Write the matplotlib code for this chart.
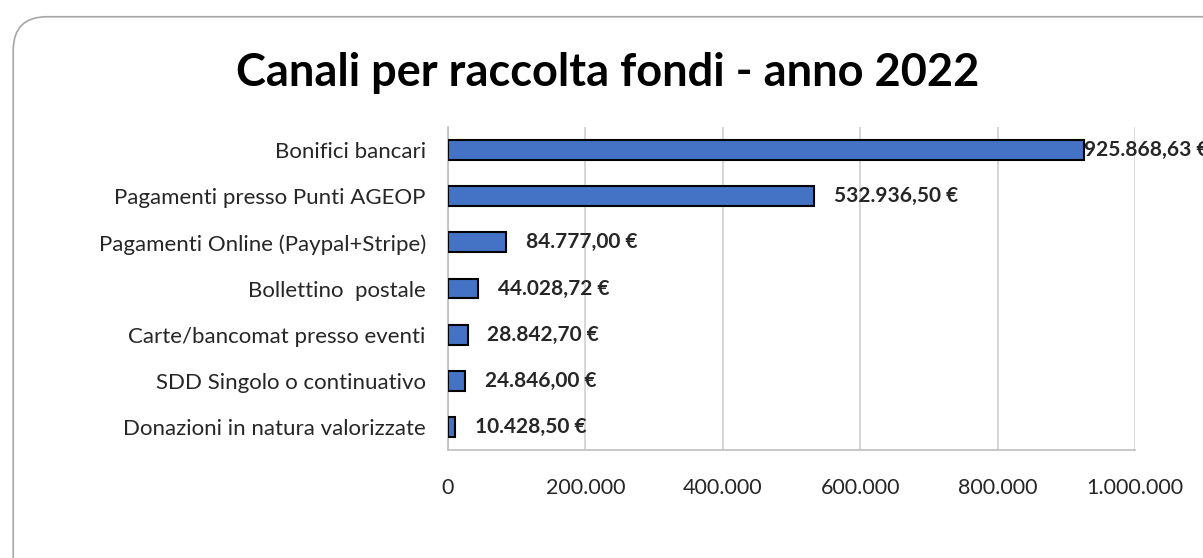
import matplotlib
matplotlib.use('Agg')
import matplotlib.pyplot as plt
from matplotlib.patches import FancyBboxPatch
from matplotlib.ticker import FuncFormatter

plt.rcParams['font.family'] = ['Lato', 'DejaVu Sans']

categories = ["Bonifici bancari", "Pagamenti presso Punti AGEOP",
              "Pagamenti Online (Paypal+Stripe)", "Bollettino  postale",
              "Carte/bancomat presso eventi", "SDD Singolo o continuativo",
              "Donazioni in natura valorizzate"]
values = [925868.63, 532936.50, 84777.00, 44028.72, 28842.70, 24846.00, 10428.50]
labels = ["925.868,63 €", "532.936,50 €", "84.777,00 €", "44.028,72 €",
          "28.842,70 €", "24.846,00 €", "10.428,50 €"]

fig = plt.figure(figsize=(12.03, 5.58), dpi=100)
border = FancyBboxPatch((0.011, -0.1), 1.1, 1.07, boxstyle="round,pad=0,rounding_size=0.028",
                        transform=fig.transFigure, fill=False, edgecolor='#a6a6a6',
                        linewidth=1.2, mutation_aspect=1203 / 558)
fig.patches.append(border)

ax = fig.add_axes([0.3724, 0.1935, 0.5711, 0.5789])
pos = list(range(len(categories)))
ax.barh(pos, values, height=0.43, color='#4472C4', edgecolor='black', linewidth=1.5, zorder=3)
ax.set_ylim(len(categories) - 0.5, -0.5)
ax.set_xlim(0, 1000000)
ax.set_xticks([0, 200000, 400000, 600000, 800000, 1000000])
ax.xaxis.set_major_formatter(FuncFormatter(lambda v, p: f"{int(v):,}".replace(",", ".")))
ax.set_yticks(pos)
ax.set_yticklabels(categories)
ax.tick_params(axis='y', length=0, pad=16, labelsize=16, labelcolor='#262626')
ax.tick_params(axis='x', length=0, pad=20, labelsize=15.5, labelcolor='#262626')
ax.grid(axis='x', color='#d0d0d0', linewidth=1.2, zorder=0)
for s in ['top', 'right']:
    ax.spines[s].set_visible(False)
for s in ['left', 'bottom']:
    ax.spines[s].set_color('#bfbfbf')
    ax.spines[s].set_linewidth(1.2)

for i, (v, lab) in enumerate(zip(values, labels)):
    off = 0 if i == 0 else 14
    ax.annotate(lab, (v, i), xytext=(off, 0), textcoords='offset points',
                va='center', ha='left', fontsize=15, fontweight='bold',
                color='#262626', zorder=4, annotation_clip=False)

fig.text(0.505, 0.87, "Canali per raccolta fondi - anno 2022", ha='center', va='center',
         fontsize=32.5, fontweight='bold', color='black')

fig.savefig("out.png", dpi=100)
